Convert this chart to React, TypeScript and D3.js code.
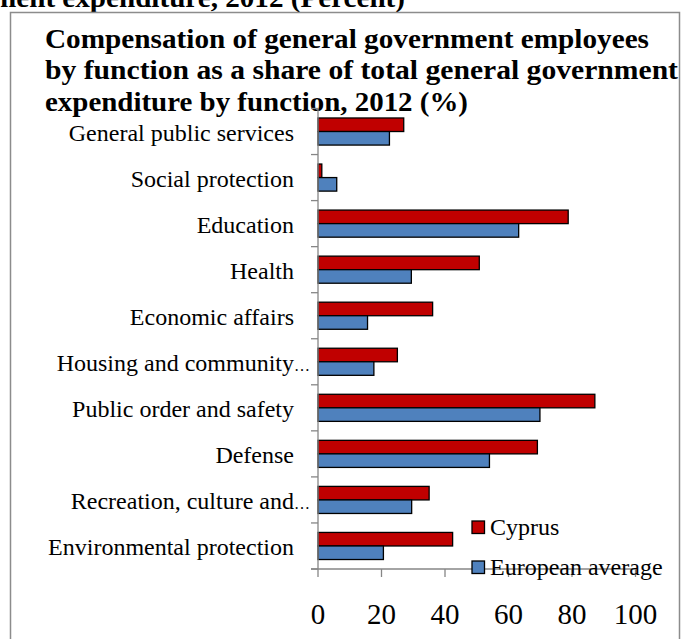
import React from "react";
import * as d3 from "d3";

const categories = [
  "General public services",
  "Social protection",
  "Education",
  "Health",
  "Economic affairs",
  "Housing and community…",
  "Public order and safety",
  "Defense",
  "Recreation, culture and…",
  "Environmental protection",
];
const cyprus = [27.0, 1.2, 78.8, 50.8, 36.1, 25.0, 87.2, 69.1, 35.0, 42.4];
const europeanAverage = [22.5, 5.9, 63.2, 29.4, 15.6, 17.6, 69.9, 54.0, 29.5, 20.6];
const seriesNames = ["Cyprus", "European average"];
const seriesColors = ["#C00000", "#4F81BD"];
const xTicks = [0, 20, 40, 60, 80, 100];
const titleLines = [
  "Compensation of general government employees",
  "by function as a share of  total general government",
  "expenditure by function, 2012 (%)",
];
const topCutTitle = "ment expenditure, 2012 (Percent)";

const W = 682;
const H = 639;
const serif = "Liberation Serif, Times New Roman, Times, serif";

export default function App() {
  const x = d3.scaleLinear().domain([0, 100]).range([318, 635.5]);
  const y0 = d3.scaleBand<string>().domain(categories).range([108.5, 569]);
  const y1 = d3
    .scaleBand<string>()
    .domain(seriesNames)
    .range([0, y0.bandwidth()])
    .paddingInner(0)
    .paddingOuter(0.7);
  const values = [cyprus, europeanAverage];
  const boundaries = categories.map((c) => y0(c) as number).concat([569]);
  const axisGray = "#868686";

  const titleLengths = [604, 633, 423];
  const titleBaselines = [47.5, 79, 110.5];
  const txt = { fontFamily: serif } as React.CSSProperties;

  return (
    <svg
      width={W}
      height={H}
      style={{ position: "absolute", left: 0, top: 0, display: "block", background: "#fff", fontFamily: serif }}
    >
      <rect x={0} y={0} width={W} height={H} fill="#fff" />
      {/* cut-off heading above the chart frame */}
      <text
        x={-8}
        y={7}
        style={txt}
        fontWeight="bold"
        fontSize={26.5}
        textLength={413}
        lengthAdjust="spacingAndGlyphs"
        fill="#000"
      >
        {topCutTitle}
      </text>
      {/* frame */}
      <path d={`M10.5,${H} V12.5 H679.5 V${H}`} fill="none" stroke="#8c8c8c" strokeWidth={1.5} />

      {/* chart title */}
      {titleLines.map((t, i) => (
        <text
          key={t}
          x={45}
          y={titleBaselines[i]}
          style={txt}
          fontWeight="bold"
          fontSize={26.5}
          textLength={titleLengths[i]}
          lengthAdjust="spacingAndGlyphs"
          fill="#000"
        >
          {t}
        </text>
      ))}

      {/* bars */}
      {categories.map((c, ci) =>
        seriesNames.map((s, si) => (
          <rect
            key={c + s}
            x={x(0)}
            y={(y0(c) as number) + (y1(s) as number)}
            width={x(values[si][ci]) - x(0)}
            height={y1.bandwidth()}
            fill={seriesColors[si]}
            stroke="#000"
            strokeWidth={1.3}
          />
        ))
      )}

      {/* category axis */}
      <line x1={x(0)} x2={x(0)} y1={108.5} y2={569} stroke={axisGray} strokeWidth={1.3} />
      {boundaries.map((b, i) => (
        <line key={i} x1={311} x2={x(0)} y1={b} y2={b} stroke={axisGray} strokeWidth={1.3} />
      ))}
      {categories.map((c) => {
        const cy = (y0(c) as number) + y0.bandwidth() / 2 + 9;
        const truncated = c.endsWith("…");
        const main = truncated ? c.slice(0, -1) : c;
        return (
          <g key={c}>
            <text x={294} y={cy} textAnchor="end" style={txt} fontSize={24} fill="#000">
              {main}
            </text>
            {truncated && (
              <text x={294} y={cy} style={txt} fontSize={16} fill="#000">
                …
              </text>
            )}
          </g>
        );
      })}

      {/* value axis */}
      <line x1={311} x2={x(100)} y1={569} y2={569} stroke={axisGray} strokeWidth={1.3} />
      {xTicks.map((t) => (
        <g key={t}>
          <line x1={x(t)} x2={x(t)} y1={569} y2={577} stroke={axisGray} strokeWidth={1.3} />
          <text x={x(t)} y={624} textAnchor="middle" style={txt} fontSize={29} fill="#000">
            {t}
          </text>
        </g>
      ))}

      {/* legend */}
      {seriesNames.map((s, i) => (
        <g key={s} transform={`translate(472,${521 + i * 40})`}>
          <rect x={0} y={0} width={12.5} height={12.5} fill={seriesColors[i]} stroke="#000" strokeWidth={1.3} />
          <text x={18} y={14} style={txt} fontSize={24} fill="#000">
            {s}
          </text>
        </g>
      ))}
    </svg>
  );
}
